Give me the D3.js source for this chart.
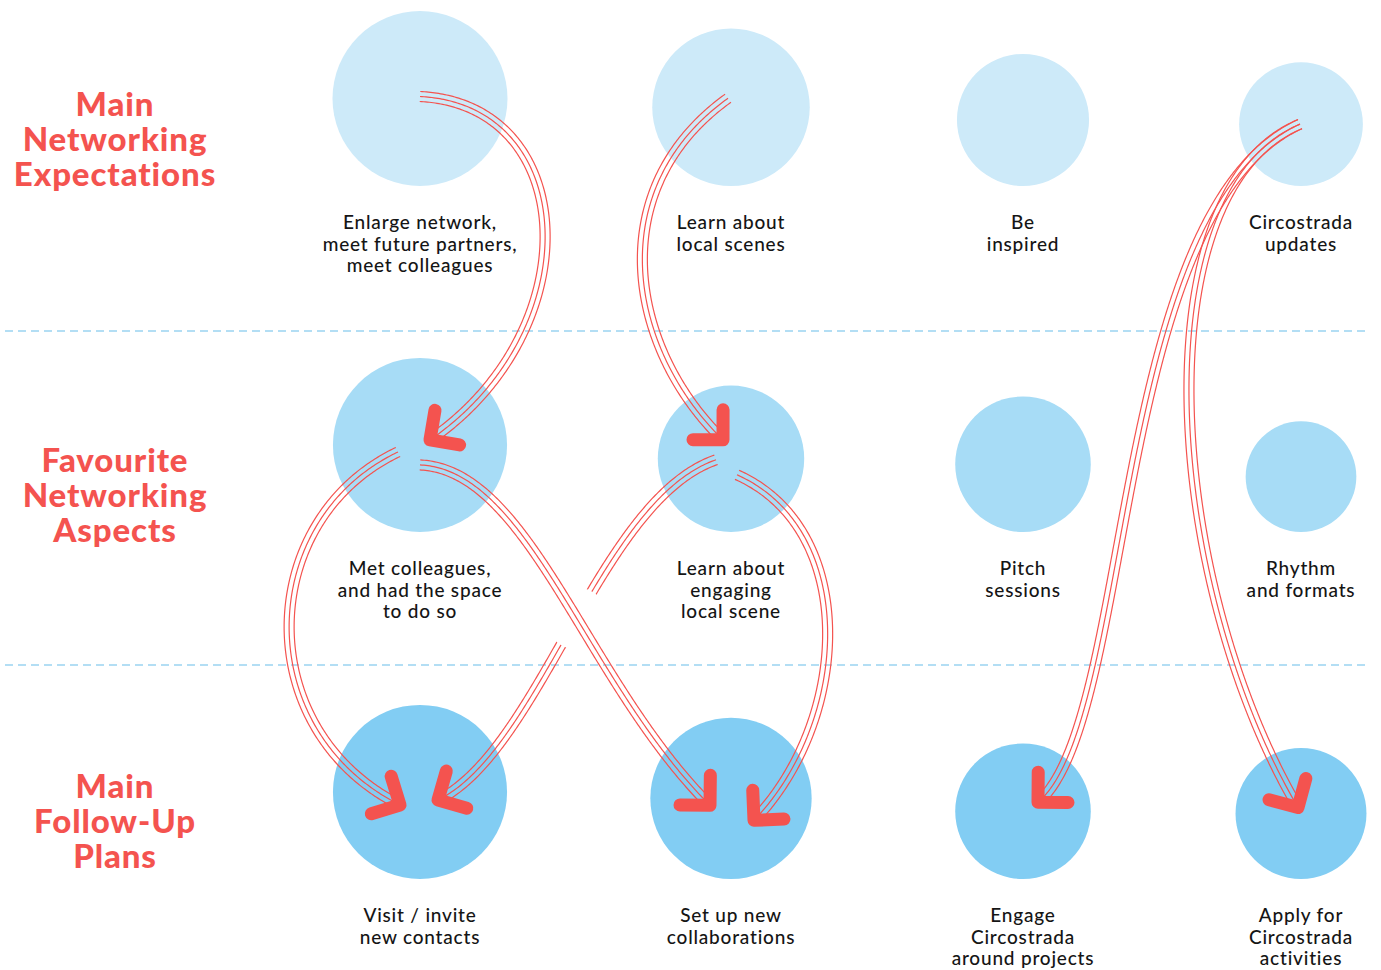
<!DOCTYPE html>
<html>
<head>
<meta charset="utf-8">
<script src="https://cdn.jsdelivr.net/npm/d3@7"></script>
<style>
body { margin: 0; background: #fff; }
svg text { font-family: Lato, "Open Sans", sans-serif; }
</style>
</head>
<body>
<svg id="chart" width="1381" height="970"></svg>
<script>
// row titles (left column)
var rowTitles = [
    ["Main", "Networking", "Expectations"],
    ["Favourite", "Networking", "Aspects"],
    ["Main", "Follow-Up", "Plans"]
];
// item labels, one list per row
var expectLabels = [["Enlarge network,", "meet future partners,", "meet colleagues"], ["Learn about", "local scenes"], ["Be", "inspired"], ["Circostrada", "updates"]];
var aspectLabels = [["Met colleagues,", "and had the space", "to do so"], ["Learn about", "engaging", "local scene"], ["Pitch", "sessions"], ["Rhythm", "and formats"]];
var planLabels = [["Visit / invite", "new contacts"], ["Set up new", "collaborations"], ["Engage", "Circostrada", "around projects"], ["Apply for", "Circostrada", "activities"]];
// circle size values (relative share, biggest = 100)
var expectValues = [100, 81, 57, 50];
var aspectValues = [99, 70, 60, 40];
var planValues = [99, 85, 60, 56];
// links: [row, col] -> [row, col]
var flows = [
    {from: [0, 0], to: [1, 0]},
    {from: [0, 1], to: [1, 1]},
    {from: [1, 0], to: [2, 0]},
    {from: [1, 1], to: [2, 0]},
    {from: [1, 0], to: [2, 1]},
    {from: [1, 1], to: [2, 1]},
    {from: [0, 3], to: [2, 2]},
    {from: [0, 3], to: [2, 3]}
];

var rowLabels = [expectLabels, aspectLabels, planLabels];
var rowValues = [expectValues, aspectValues, planValues];

// layout bits
var colX = d3.scaleOrdinal().domain([0, 1, 2, 3]).range([420, 731, 1023, 1301]);
var rowBase = d3.scaleOrdinal().domain([0, 1, 2]).range([186, 532, 879]);
var titleY = d3.scaleOrdinal().domain([0, 1, 2]).range([139, 495, 821]);
var rScale = d3.scaleSqrt().domain([0, 100]).range([0, 87.5]);
var fills = ["#cdeaf9", "#a7dcf6", "#82cdf3"];
var red = "#f4534f";

// curve shape of each link: start/end offset from circle centre, control offsets
var shapes = [
    {s: [0, -2], e: [10, -5], c1: [160, 8], c2: [160, -110]},
    {s: [-3, -9], e: [-8, -19], c1: [-128, 92], c2: [-93, -90]},
    {s: [-22, 7], e: [-20, 13], c1: [-143, 68], c2: [-150, -75]},
    {s: [-15, 1], e: [18, 8], c1: [-116, 40], c2: [102, -50]},
    {s: [0, 20], e: [-21, 7], c1: [110, 5], c2: [-125, -125]},
    {s: [6, 16], e: [23, 22], c1: [123, 55], c2: [96, -100]},
    {s: [-1, 0], e: [15, -9], c1: [-190, 86], c2: [97, -82]},
    {s: [-1, 0], e: [-3, -6], c1: [-160, 66], c2: [-133, -227]}
];

var svg = d3.select("#chart");

function centre(rc) {
    var r = rScale(rowValues[rc[0]][rc[1]]);
    return [colX(rc[1]), rowBase(rc[0]) - r];
}

// dashed separators
svg.selectAll("line.sep")
    .data([331, 665])
    .enter().append("line")
    .attr("class", "sep")
    .attr("x1", 5).attr("x2", 1368)
    .attr("y1", function(d) { return d; })
    .attr("y2", function(d) { return d; })
    .attr("stroke", "#9ad4f1")
    .attr("stroke-width", 1.3)
    .attr("stroke-dasharray", "8,5");

// circles + labels
rowValues.forEach(function(vals, ri) {
    var g = svg.append("g");
    g.selectAll("circle")
        .data(vals)
        .enter().append("circle")
        .attr("cx", function(d, i) { return colX(i); })
        .attr("cy", function(d) { return rowBase(ri) - rScale(d); })
        .attr("r", function(d) { return rScale(d); })
        .attr("fill", fills[ri]);

    g.selectAll("text")
        .data(rowLabels[ri])
        .enter().append("text")
        .attr("x", function(d, i) { return colX(i); })
        .attr("y", rowBase(ri) + 43)
        .attr("text-anchor", "middle")
        .attr("font-size", 19)
        .attr("font-weight", 500)
        .attr("fill", "#151515")
        .attr("letter-spacing", 0.8)
        .each(function(lines, i) {
            var t = d3.select(this);
            lines.forEach(function(l, k) {
                t.append("tspan").attr("x", colX(i)).attr("dy", k == 0 ? 0 : 21.5).text(l);
            });
        });
});

// row titles, one text per line
rowTitles.forEach(function(lines, ri) {
    svg.append("g").selectAll("text")
        .data(lines)
        .enter().append("text")
        .attr("x", 115)
        .attr("y", function(d, k) { return titleY(ri) + (k - 1) * 35 + 12; })
        .attr("text-anchor", "middle")
        .attr("font-size", 33)
        .attr("font-weight", 900)
        .attr("letter-spacing", 0.9)
        .attr("fill", red)
        .text(function(d) { return d; });
});

// build link curves
var tmp = svg.append("g").attr("visibility", "hidden");
var linkData = flows.map(function(f, i) {
    var a = centre(f.from), b = centre(f.to), sh = shapes[i];
    var p0 = [a[0] + sh.s[0], a[1] + sh.s[1]];
    var p3 = [b[0] + sh.e[0], b[1] + sh.e[1]];
    var p = d3.path();
    p.moveTo(p0[0], p0[1]);
    p.bezierCurveTo(p0[0] + sh.c1[0], p0[1] + sh.c1[1], p3[0] + sh.c2[0], p3[1] + sh.c2[1], p3[0], p3[1]);
    var node = tmp.append("path").attr("d", p.toString()).node();
    var L = node.getTotalLength();
    var n = Math.ceil(L / 2);
    var pts = [];
    for (var k = 0; k <= n; k++) {
        var q = node.getPointAtLength(L * k / n);
        pts.push([q.x, q.y]);
    }
    return {pts: pts, end: p3};
});

function offsetLine(pts, off) {
    return pts.map(function(p, k) {
        var a = pts[Math.max(0, k - 1)], b = pts[Math.min(pts.length - 1, k + 1)];
        var dx = b[0] - a[0], dy = b[1] - a[1], len = Math.sqrt(dx * dx + dy * dy) || 1;
        return [p[0] - dy / len * off, p[1] + dx / len * off];
    });
}

// crossing of link 4 (index 3) with link 5 (index 4): gap in link 4
var best = {d: 1e9};
linkData[3].pts.forEach(function(p) {
    linkData[4].pts.forEach(function(q) {
        var d = (p[0] - q[0]) * (p[0] - q[0]) + (p[1] - q[1]) * (p[1] - q[1]);
        if (d < best.d) best = {d: d, x: (p[0] + q[0]) / 2, y: (p[1] + q[1]) / 2};
    });
});
var mask = svg.append("defs").append("mask").attr("id", "gap");
mask.append("rect").attr("width", 1381).attr("height", 970).attr("fill", "#fff");
mask.append("circle").attr("cx", best.x).attr("cy", best.y).attr("r", 31).attr("fill", "#000");

var line = d3.line().curve(d3.curveLinear);
var links = svg.selectAll("g.link")
    .data(linkData)
    .enter().append("g")
    .attr("class", "link")
    .attr("mask", function(d, i) { return i == 3 ? "url(#gap)" : null; });

links.selectAll("path.strand")
    .data(function(d) { return [-5, 0, 5].map(function(o) { return offsetLine(d.pts, o); }); })
    .enter().append("path")
    .attr("class", "strand")
    .attr("d", line)
    .attr("fill", "none")
    .attr("stroke", red)
    .attr("stroke-width", 1.2);

// arrow heads
svg.selectAll("path.head")
    .data(linkData)
    .enter().append("path")
    .attr("class", "head")
    .attr("d", function(d) {
        var pts = d.pts, e = pts[pts.length - 1], b = pts[pts.length - 6];
        var ang = Math.atan2(e[1] - b[1], e[0] - b[0]) + Math.PI;
        var arm = 30;
        var a1 = [e[0] + arm * Math.cos(ang + Math.PI / 4), e[1] + arm * Math.sin(ang + Math.PI / 4)];
        var a2 = [e[0] + arm * Math.cos(ang - Math.PI / 4), e[1] + arm * Math.sin(ang - Math.PI / 4)];
        return line([a1, e, a2]);
    })
    .attr("fill", "none")
    .attr("stroke", red)
    .attr("stroke-width", 13)
    .attr("stroke-linecap", "round")
    .attr("stroke-linejoin", "round");
</script>
</body>
</html>
